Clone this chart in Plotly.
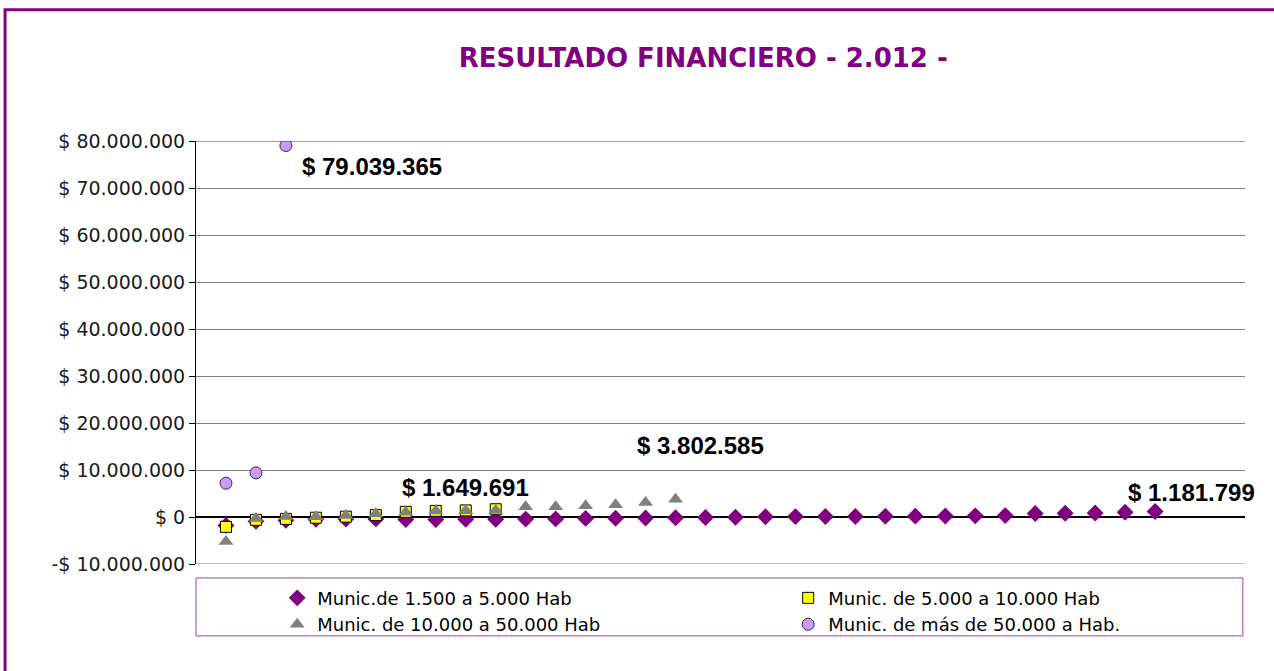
import plotly.graph_objects as go

# ---- data (values in pesos) ----
serie_1500_5000 = [-1800000, -900000, -700000, -500000, -450000, -400000, -550000, -550000,
                   -500000, -500000, -450000, -400000, -300000, -250000, -200000, -150000,
                   -100000, -50000, 50000, 80000, 100000, 120000, 150000, 180000, 200000,
                   250000, 300000, 750000, 800000, 850000, 1000000, 1181799]
serie_5000_10000 = [-2100000, -600000, -400000, -150000, 70000, 400000, 1100000, 1300000,
                    1400000, 1649691]
serie_10000_50000 = [-5200000, -300000, 100000, 50000, 300000, 700000, 1000000, 1300000,
                     1350000, 1400000, 2200000, 2200000, 2400000, 2600000, 3100000, 3802585]
serie_mas_50000 = [7200000, 9400000, 79039365]

names = ["Munic.de 1.500 a 5.000 Hab", "Munic. de 5.000 a 10.000 Hab",
         "Munic. de 10.000 a 50.000 Hab", "Munic. de más de 50.000 a Hab."]
y_ticks = [-10000000, 0, 10000000, 20000000, 30000000, 40000000, 50000000,
           60000000, 70000000, 80000000]
title_text = "RESULTADO FINANCIERO - 2.012 -"


def fmt(v):
    s = f"{abs(int(v)):,}".replace(",", ".")
    return ("-" if v < 0 else "") + "$ " + s


def xs(vals):
    return list(range(1, len(vals) + 1))


PURPLE = "#800080"

fig = go.Figure()
fig.add_trace(go.Scatter(x=xs(serie_1500_5000), y=serie_1500_5000, mode="markers", name=names[0],
                         marker=dict(symbol="diamond", size=13, color=PURPLE, line=dict(width=0))))
fig.add_trace(go.Scatter(x=xs(serie_5000_10000), y=serie_5000_10000, mode="markers", name=names[1],
                         marker=dict(symbol="square", size=11, color="#FFFF00",
                                     line=dict(width=1, color="#000000"))))
fig.add_trace(go.Scatter(x=xs(serie_10000_50000), y=serie_10000_50000, mode="markers", name=names[2],
                         marker=dict(symbol="triangle-up", size=13, color="#808080", line=dict(width=0))))
fig.add_trace(go.Scatter(x=xs(serie_mas_50000), y=serie_mas_50000, mode="markers", name=names[3],
                         marker=dict(symbol="circle", size=12, color="#CC99FF",
                                     line=dict(width=1, color="#333333"))))

# data labels (tied to the labelled points)
labels = [
    (len(serie_mas_50000), serie_mas_50000[-1], 86, -21),
    (len(serie_5000_10000), serie_5000_10000[-1], -30, 22),
    (len(serie_10000_50000), serie_10000_50000[-1], 25, 54),
    (len(serie_1500_5000), serie_1500_5000[-1], 36, 19),
]
for x, y, dx, dy in labels:
    fig.add_annotation(x=x, y=y, text="<b>" + fmt(y) + "</b>", showarrow=False, xshift=dx, yshift=dy,
                       font=dict(family="Liberation Sans, Arial", size=24, color="#000000"))

# outer chart border
fig.add_shape(type="rect", xref="paper", yref="paper", x0=-0.182, x1=1.04, y0=-0.3, y1=1.31,
              line=dict(color=PURPLE, width=3), fillcolor="rgba(0,0,0,0)", layer="below")
# legend box
fig.add_shape(type="rect", xref="paper", yref="paper", x0=0.0, x1=0.998, y0=-0.170, y1=-0.033,
              line=dict(color="#A040A0", width=1), fillcolor="rgba(0,0,0,0)")
# plot-area top / bottom edge lines (gridlines at the range ends)
for yv in (y_ticks[0], y_ticks[-1]):
    fig.add_shape(type="line", xref="paper", yref="y", x0=0, x1=1, y0=yv, y1=yv,
                  line=dict(color="#808080" if yv < 0 else "#404040", width=1))

fig.update_layout(
    width=1274, height=671,
    margin=dict(l=196, r=29, t=141, b=107, autoexpand=False),
    paper_bgcolor="white", plot_bgcolor="white",
    title=dict(text="<b>" + title_text + "</b>", x=0.552, xanchor="center", y=0.913, yanchor="middle",
               font=dict(family="DejaVu Sans", size=26, color=PURPLE)),
    showlegend=True,
    legend=dict(orientation="h", x=0.0774, xanchor="left", y=-0.037, yanchor="top",
                entrywidth=466, entrywidthmode="pixels", bgcolor="rgba(0,0,0,0)",
                font=dict(family="DejaVu Sans", size=18, color="#000000"), itemwidth=30,
                tracegroupgap=0),
    xaxis=dict(range=[0, 35], showgrid=False, zeroline=False, showline=False,
               showticklabels=False, ticks=""),
    yaxis=dict(range=[-10000000, 80000000], tickvals=y_ticks, ticktext=[fmt(v) for v in y_ticks],
               showgrid=True, gridcolor="#808080", gridwidth=1,
               zeroline=True, zerolinecolor="#000000", zerolinewidth=1.5,
               showline=True, linecolor="#000000", linewidth=1,
               ticks="outside", ticklen=6, tickcolor="#000000",
               tickfont=dict(family="DejaVu Sans", size=19, color="#1a1a1a")),
)

fig.write_html("out.html", config={"displayModeBar": False},
               post_script="document.body.style.margin='0';")
